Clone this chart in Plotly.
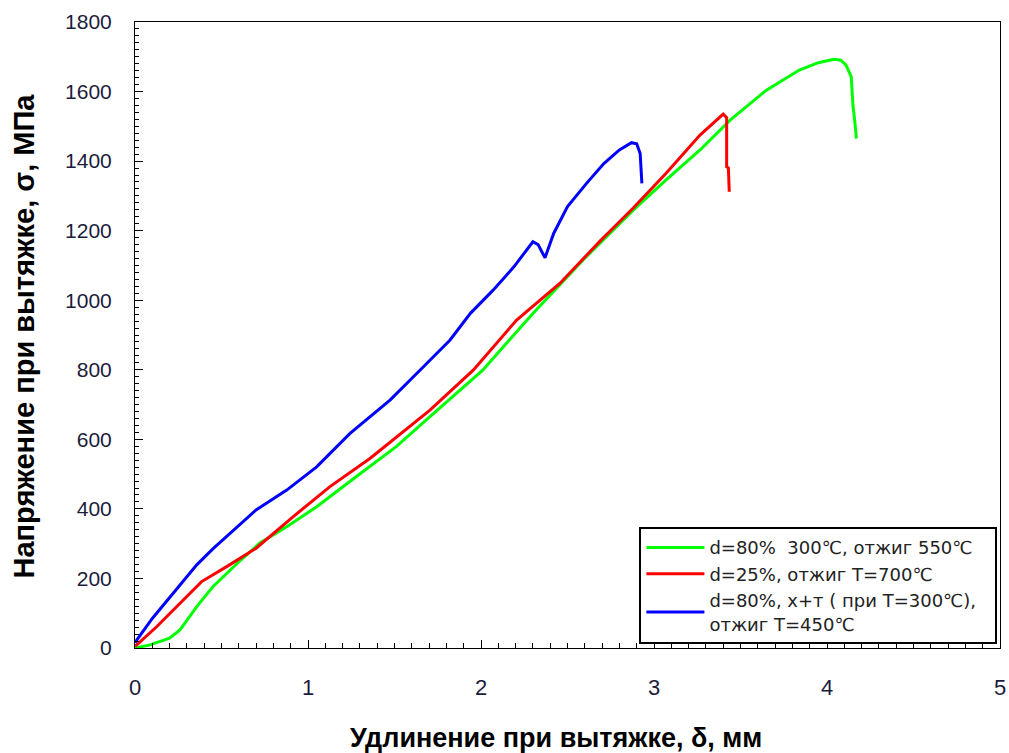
import plotly.graph_objects as go

# ---- data ----
green_x = [0, 0.087, 0.2, 0.26, 0.357, 0.45, 0.59, 0.72, 0.877, 1.05, 1.28, 1.51, 1.705, 2.01, 2.30,
           2.59, 2.88, 3.07, 3.266, 3.44, 3.65, 3.84, 3.95, 4.04, 4.08, 4.11, 4.14, 4.15, 4.16, 4.17]
green_y = [0, 9, 28, 52, 119, 176, 243, 301, 349, 406, 493, 579, 665, 799, 962,
           1116, 1259, 1346, 1432, 1518, 1604, 1662, 1683, 1693, 1690, 1676, 1643, 1560, 1518, 1465]

red_x = [0, 0.01, 0.125, 0.26, 0.385, 0.53, 0.70, 0.915, 1.127, 1.358, 1.705, 1.955, 2.206, 2.457,
         2.688, 2.88, 3.07, 3.266, 3.36, 3.40, 3.42, 3.42, 3.43, 3.435]
red_y = [5, 9, 61, 128, 191, 234, 287, 378, 464, 545, 684, 799, 943, 1049,
         1170, 1265, 1365, 1475, 1518, 1535, 1525, 1384, 1380, 1312]

blue_x = [0, 0.01, 0.1, 0.22, 0.357, 0.45, 0.54, 0.70, 0.877, 1.05, 1.243, 1.474, 1.65, 1.82, 1.94,
          2.07, 2.19, 2.27, 2.30, 2.33, 2.37, 2.42, 2.50, 2.61, 2.71, 2.80, 2.87, 2.90, 2.92, 2.93]
blue_y = [15, 23, 85, 157, 239, 285, 325, 397, 454, 521, 617, 713, 800, 885, 963,
          1029, 1096, 1150, 1168, 1160, 1122, 1192, 1269, 1336, 1393, 1432, 1453, 1450, 1422, 1336]

names = ["d=80%  300\u2103, отжиг 550\u2103\u00a0\u00a0\u00a0",
         "d=25%, отжиг T=700\u2103",
         "d=80%, х+т ( при T=300\u2103),<br>отжиг T=450\u2103"]
colors = ["#00ff00", "#ff0000", "#0000ff"]

x_title = "Удлинение при вытяжке, δ, мм"
y_title = "Напряжение при вытяжке, σ, МПа"

fig = go.Figure()
for i, (xs, ys) in enumerate([(green_x, green_y), (red_x, red_y), (blue_x, blue_y)]):
    fig.add_trace(go.Scatter(x=xs, y=ys, mode="lines", name=names[i],
                             line=dict(color=colors[i], width=3),
                             legendgroup=f"g{i}"))

tick_color = "#1c1c3c"
fig.update_layout(
    width=1009, height=753,
    margin=dict(l=135, r=9, t=22, b=105),
    paper_bgcolor="white", plot_bgcolor="white",
    showlegend=True,
    legend=dict(x=0.997, y=0.006, xanchor="right", yanchor="bottom",
                bordercolor="black", borderwidth=2, bgcolor="white",
                font=dict(family="DejaVu Sans", size=18, color="#222"),
                tracegroupgap=10, itemwidth=58, traceorder="normal"),
    xaxis=dict(range=[0, 5], dtick=1, tick0=0, showgrid=False, zeroline=False,
               showline=True, linecolor="black", linewidth=1, mirror=True,
               ticks="inside", ticklen=8, tickcolor="black", automargin=False,
               minor=dict(dtick=0.1, ticks="inside", ticklen=5, tickcolor="black", showgrid=False),
               tickfont=dict(family="Liberation Sans Narrow, Liberation Sans", size=22, color=tick_color),
               ticklabelstandoff=20),
    yaxis=dict(range=[0, 1800], dtick=200, tick0=0, showgrid=False, zeroline=False,
               showline=True, linecolor="black", linewidth=1, mirror=True,
               ticks="inside", ticklen=8, tickcolor="black", automargin=False,
               minor=dict(dtick=20, ticks="inside", ticklen=4, tickcolor="black", showgrid=False),
               tickfont=dict(family="Liberation Sans", size=21, color=tick_color),
               ticklabelstandoff=18),
    annotations=[
        dict(text=f"<b>{x_title}</b>", xref="paper", yref="paper", x=0.487, y=-0.144,
             xanchor="center", yanchor="middle", showarrow=False,
             font=dict(family="Liberation Sans Narrow, Liberation Sans", size=27, color="black")),
        dict(text=f"<b>{y_title}</b>", xref="paper", yref="paper", x=-0.128, y=0.498,
             xanchor="center", yanchor="middle", showarrow=False, textangle=-90,
             font=dict(family="Liberation Sans", size=29, color="black")),
    ],
)

fig.write_html("out.html", config={"displayModeBar": False},
               post_script="document.body.style.margin='0';document.body.style.overflow='hidden';")
